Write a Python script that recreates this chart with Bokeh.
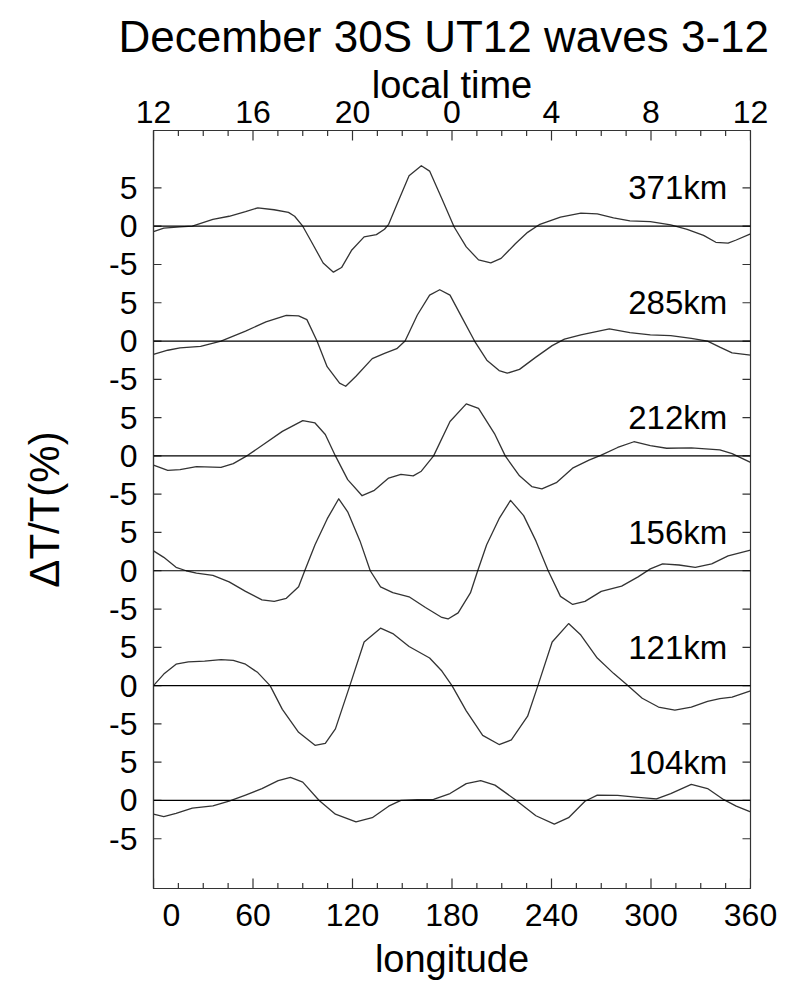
from bokeh.plotting import figure
from bokeh.models import Range1d, LinearAxis, FixedTicker, Span, ColumnDataSource
from bokeh.core.properties import value
from bokeh.embed import file_html
from bokeh.resources import INLINE

FONT = "Liberation Sans"

# ---------------- data ----------------
heights = ["371km", "285km", "212km", "156km", "121km", "104km"]
offsets = [75, 60, 45, 30, 15, 0]

lon_371 = [0, 6.2, 16.0, 23.4, 35.8, 45.6, 55.5, 62.9, 72.7, 81.4, 85.1, 90.0, 94.9, 102.3,
           108.5, 113.4, 119.6, 127.0, 134.4, 139.3, 141.8, 146.7, 154.1, 161.5, 166.5, 173.9,
           181.3, 188.6, 196.0, 203.4, 209.6, 218.2, 225.6, 233.0, 245.4, 257.7, 267.6, 277.4,
           287.3, 299.6, 311.9, 321.8, 331.7, 339.1, 346.5, 351.4, 360]
dt_371 = [-0.7, -0.25, -0.1, 0, 0.9, 1.3, 1.9, 2.4, 2.15, 1.8, 1.3, 0, -1.9, -4.8,
          -6.0, -5.4, -3.1, -1.4, -1.1, -0.4, 0.25, 2.8, 6.6, 7.9, 7.2, 3.6,
          -0.1, -2.7, -4.4, -4.8, -4.2, -2.3, -0.8, 0.25, 1.2, 1.7, 1.6, 1.1,
          0.7, 0.6, 0.17, -0.4, -1.2, -2.1, -2.2, -1.8, -1.0]

lon_285 = [0, 8.6, 16.0, 28.4, 40.7, 55.5, 67.8, 80.1, 87.5, 92.5, 98.6, 104.7, 112.2, 115.9,
           122.1, 131.9, 139.3, 146.7, 151.7, 159.1, 166.5, 172.6, 178.8, 186.2, 193.6, 201.0,
           208.4, 213.3, 220.7, 230.6, 240.4, 247.8, 257.7, 274.9, 287.3, 299.6, 311.9, 324.3,
           334.1, 341.5, 348.9, 360]
dt_285 = [-1.75, -1.2, -0.9, -0.7, 0, 1.3, 2.5, 3.35, 3.3, 2.8, 0, -3.35, -5.5, -5.9,
          -4.6, -2.3, -1.6, -1.0, 0, 3.4, 6.0, 6.7, 6.0, 3.0, 0, -2.5,
          -3.85, -4.2, -3.7, -2.1, -0.6, 0.25, 0.8, 1.6, 1.1, 0.8, 0.7, 0.35,
          0, -0.8, -1.55, -1.85]

lon_212 = [0, 8.6, 16.0, 25.9, 40.7, 48.1, 55.5, 65.4, 77.7, 90.0, 97.4, 103.6, 109.7, 117.1,
           125.8, 133.2, 141.8, 149.2, 156.6, 161.5, 168.9, 178.8, 188.6, 196.0, 205.9, 212.1,
           220.7, 228.1, 234.2, 242.9, 252.7, 262.6, 270.0, 279.9, 289.7, 299.6, 309.4, 324.3,
           341.5, 348.9, 360]
dt_212 = [-1.2, -1.9, -1.8, -1.4, -1.5, -1.0, -0.1, 1.35, 3.2, 4.6, 4.3, 2.8, 0, -3.1,
          -5.2, -4.5, -2.9, -2.4, -2.6, -2.0, 0, 4.5, 6.8, 6.2, 2.8, 0,
          -2.6, -4.0, -4.3, -3.5, -1.6, -0.55, 0.1, 1.1, 1.85, 1.35, 1.0, 1.05,
          0.8, 0.3, -0.85]

lon_156 = [0, 6.2, 13.6, 19.7, 25.9, 35.8, 45.6, 55.5, 65.4, 72.8, 80.1, 87.5, 91.2, 97.4,
           104.8, 111.7, 117.1, 124.5, 130.7, 136.9, 144.3, 154.1, 164.0, 173.9, 177.6, 183.7,
           191.1, 195.5, 200.9, 208.4, 215.3, 223.2, 230.6, 238.0, 245.4, 252.8, 260.2, 270.0,
           282.3, 292.2, 299.6, 307.0, 316.9, 326.7, 336.6, 346.5, 360]
dt_156 = [2.6, 1.75, 0.45, 0, -0.3, -0.6, -1.45, -2.7, -3.8, -4.0, -3.6, -2.1, 0, 3.4,
          6.8, 9.4, 7.7, 3.9, 0, -2.1, -2.85, -3.4, -4.8, -6.1, -6.3, -5.5,
          -2.9, 0, 3.4, 6.8, 9.2, 7.2, 3.9, 0, -3.35, -4.4, -4.0, -2.7,
          -2.0, -0.8, 0.25, 0.9, 0.75, 0.45, 0.9, 1.95, 2.7]

lon_121 = [0, 6.2, 13.6, 21.0, 30.8, 40.7, 48.1, 55.5, 62.9, 70.3, 77.7, 87.5, 97.4, 103.6,
           109.7, 118.4, 127.0, 136.9, 144.3, 154.1, 166.5, 173.9, 180.0, 188.6, 198.5, 208.4,
           215.8, 225.6, 231.8, 240.4, 250.3, 257.7, 267.6, 277.4, 284.8, 294.7, 304.5, 314.4,
           324.3, 334.1, 341.5, 348.9, 360]
dt_121 = [0, 1.5, 2.8, 3.1, 3.2, 3.4, 3.3, 2.8, 1.7, 0, -3.1, -6.1, -7.8, -7.55,
          -5.65, 0, 5.7, 7.5, 6.8, 5.1, 3.6, 1.9, 0, -3.3, -6.5, -7.7,
          -7.1, -4.0, 0, 5.7, 8.1, 6.6, 3.6, 1.6, 0.25, -1.65, -2.8, -3.2,
          -2.8, -2.05, -1.7, -1.5, -0.7]

lon_104 = [0, 6.2, 13.6, 23.4, 35.8, 45.6, 55.5, 65.4, 75.2, 82.6, 90.0, 99.9, 109.7, 122.1,
           131.9, 141.8, 149.2, 159.1, 168.9, 178.8, 188.6, 197.3, 205.9, 218.2, 230.6, 241.7,
           250.3, 260.2, 267.6, 279.9, 292.2, 303.3, 311.9, 324.3, 334.1, 343.9, 351.4, 360]
dt_104 = [-1.8, -2.1, -1.7, -1.0, -0.7, -0.1, 0.7, 1.55, 2.6, 3.0, 2.4, 0, -1.8, -2.8,
          -2.25, -0.75, 0, 0.1, 0.15, 0.9, 2.2, 2.6, 2.0, 0.1, -2.0, -3.1,
          -2.25, -0.1, 0.7, 0.65, 0.4, 0.2, 0.9, 2.1, 1.55, 0.1, -0.75, -1.5]

series_lon = [lon_371, lon_285, lon_212, lon_156, lon_121, lon_104]
series_dt = [dt_371, dt_285, dt_212, dt_156, dt_121, dt_104]

lon_ticks = [0, 60, 120, 180, 240, 300, 360]
lon_tick_labels = ["\u2007\u20070", "60", "120", "180", "240", "300", "360"]
lt_tick_labels = ["12", "16", "20", "0", "4", "8", "12"]
lon_minor = [15, 30, 45, 75, 90, 105, 135, 150, 165, 195, 210, 225,
             255, 270, 285, 315, 330, 345]
panel_tick_steps = [-5, 0, 5]
panel_tick_labels = ["-5", "0", "5"]

X_LO, X_HI = 0, 360
Y_LO, Y_HI = -11.5, 87.5

# ---------------- figure ----------------
p = figure(width=786, height=982, x_range=Range1d(X_LO, X_HI), y_range=Range1d(Y_LO, Y_HI),
           output_backend="svg", toolbar_location=None,
           x_axis_location=None, y_axis_location=None,
           min_border_left=153, min_border_right=36, min_border_top=130, min_border_bottom=93)
p.grid.visible = False
p.outline_line_color = "#333333"
p.outline_line_width = 1.2
p.background_fill_color = "white"
p.border_fill_color = "white"

p.title.text = "December 30S UT12 waves 3-12"
p.title.text_font = FONT
p.title.text_font_size = "44px"
p.title.text_font_style = "normal"
p.title.align = "left"
p.title.offset = -35
p.title.text_color = "black"
p.title.standoff = 0


def style(ax):
    ax.major_tick_in = 0
    ax.major_tick_out = 0
    ax.minor_tick_in = 0
    ax.minor_tick_out = 0
    ax.axis_line_color = "#333333"
    ax.axis_line_width = 1.2
    ax.major_label_text_font = FONT
    ax.major_label_text_font_size = "32px"
    ax.major_label_text_color = "black"
    ax.axis_label_text_font = FONT
    ax.axis_label_text_font_size = "38px"
    ax.axis_label_text_font_style = "normal"
    ax.axis_label_text_color = "black"


bottom = LinearAxis(ticker=FixedTicker(ticks=lon_ticks, minor_ticks=[]),
                    major_label_overrides=dict(zip(lon_ticks, lon_tick_labels)),
                    axis_label="longitude")
style(bottom)
bottom.major_label_standoff = 8
bottom.axis_label_standoff = 2
p.add_layout(bottom, "below")

top = LinearAxis(ticker=FixedTicker(ticks=lon_ticks, minor_ticks=[]),
                 major_label_overrides=dict(zip(lon_ticks, lt_tick_labels)),
                 axis_label="local time")
style(top)
top.major_label_standoff = 8
top.axis_label_standoff = -8
p.add_layout(top, "above")

ytick_vals = []
ytick_labels = {}
for off in offsets:
    for d, lab in zip(panel_tick_steps, panel_tick_labels):
        ytick_vals.append(off + d)
        ytick_labels[off + d] = lab

left = LinearAxis(ticker=FixedTicker(ticks=ytick_vals, minor_ticks=[]),
                  major_label_overrides=ytick_labels, axis_label="ΔT/T(%)")
style(left)
left.axis_label_text_font_size = "42px"
left.major_label_standoff = 16
left.axis_label_standoff = 38
p.add_layout(left, "left")

# inward tick marks (dash markers centred on the frame edges, clipped by the frame)
TICK = "#333333"
p.scatter(x=lon_ticks, y=[Y_LO] * len(lon_ticks), marker="dash", size=20, angle=1.5708,
          line_color=TICK, line_width=1.2)
p.scatter(x=lon_ticks, y=[Y_HI] * len(lon_ticks), marker="dash", size=20, angle=1.5708,
          line_color=TICK, line_width=1.2)
p.scatter(x=lon_minor, y=[Y_LO] * len(lon_minor), marker="dash", size=11, angle=1.5708,
          line_color=TICK, line_width=1.2)
p.scatter(x=lon_minor, y=[Y_HI] * len(lon_minor), marker="dash", size=11, angle=1.5708,
          line_color=TICK, line_width=1.2)
p.scatter(x=[X_LO] * len(ytick_vals), y=ytick_vals, marker="dash", size=16,
          line_color=TICK, line_width=1.2)
p.scatter(x=[X_HI] * len(ytick_vals), y=ytick_vals, marker="dash", size=16,
          line_color=TICK, line_width=1.2)

# zero lines
for off in offsets:
    p.add_layout(Span(location=off, dimension="width", line_color="black", line_width=1.2))

# curves
for lon, dt, off in zip(series_lon, series_dt, offsets):
    src = ColumnDataSource(dict(x=lon, y=[v + off for v in dt]))
    p.line("x", "y", source=src, line_color="#333333", line_width=1.3, line_join="round")

# height labels
label_lon = 346
lab_src = ColumnDataSource(dict(x=[label_lon] * len(heights),
                                y=[off + 5 for off in offsets], t=heights))
p.text("x", "y", text="t", source=lab_src, text_align="right", text_baseline="middle",
       text_font=value(FONT), text_font_size="33px", text_color="black")

open("out.html", "w").write(file_html(p, INLINE))
